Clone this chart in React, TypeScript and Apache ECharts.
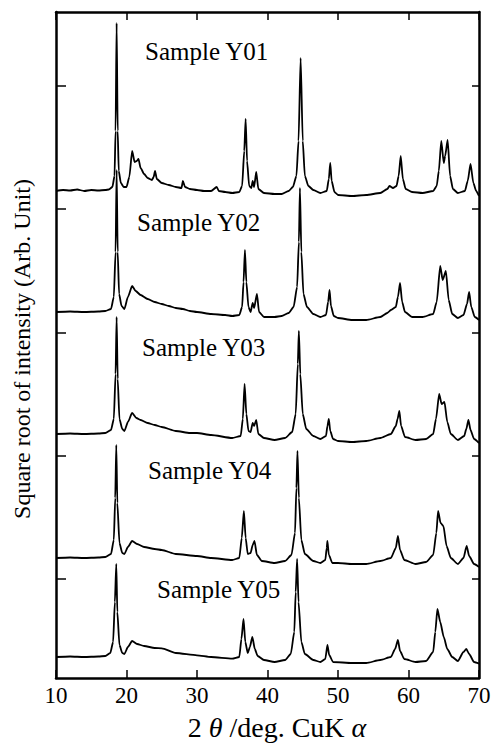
import React, { useEffect, useRef } from "react";
import * as echarts from "echarts";

const FONT = "Liberation Serif";

const sampleNames = ["Sample Y01", "Sample Y02", "Sample Y03", "Sample Y04", "Sample Y05"];
const offsets = [487, 366, 244, 120, 21];
const xTicks = [10, 20, 30, 40, 50, 60, 70];
const yTickValues = [99, 222, 345, 469, 592];

const y01: [number, number][] = [
  [10, 0], [11, 1], [12, 0.5], [13, 1.5], [14, 0], [15, 1], [16, 0.5], [17, 1], [17.5, 1.5], [18.0, 4], [18.3, 15], [18.45, 60], [18.6, 168], [18.75, 60], [18.9, 20], [19.2, 8], [19.6, 4],
  [20.0, 4], [20.4, 14], [20.8, 40], [21.15, 29], [21.45, 30], [21.7, 32], [22.0, 23], [22.5, 17], [23.0, 13], [23.6, 11], [23.85, 14], [24.05, 20], [24.3, 12], [25, 8], [26, 6], [27, 4],
  [27.8, 3], [28.0, 10], [28.3, 4], [29, 2], [30, 1], [31, 0], [32, 0], [32.8, 4], [33.1, 0], [34, -1], [35, -2], [36, -1], [36.4, 5], [36.7, 40], [36.9, 72], [37.1, 30], [37.4, 5],
  [37.7, 3], [37.9, 10], [38.1, 4], [38.4, 19], [38.7, 2], [39.5, -2], [41, -3], [42, -3], [43, 0], [43.6, 4], [44.1, 15], [44.4, 50], [44.7, 133], [45.0, 50], [45.3, 15], [45.8, 5],
  [46.5, 1], [47.5, -2], [48.4, 0], [48.7, 12], [48.9, 28], [49.1, 10], [49.5, -1], [50, -4], [52, -5], [54, -4], [56, -2], [57.0, 2], [57.3, 5], [57.8, 3], [58.3, 5], [58.6, 15],
  [58.9, 35], [59.2, 12], [59.6, 2], [60.5, -1], [62, -2], [63.5, 0], [64.0, 5], [64.3, 20], [64.65, 50], [65.0, 28], [65.2, 35], [65.55, 51], [65.9, 15], [66.3, 2], [67, -2],
  [68, 0], [68.4, 10], [68.8, 27], [69.2, 8], [69.6, 0], [70, -5],
];

const y02: [number, number][] = [
  [10, 0], [12, 0.5], [14, 0], [16, 0.5], [17, 1], [17.8, 3], [18.2, 15], [18.45, 60], [18.6, 142], [18.75, 60], [18.95, 18], [19.3, 6], [19.7, 3], [20.2, 15], [20.8, 26], [21.3, 21],
  [22, 17], [23, 13], [24, 10], [25, 8], [26, 6], [27, 4], [28, 3], [29, 1], [30, 0], [32, -2], [34, -3], [35, -4], [36, -3], [36.4, 5], [36.6, 30], [36.8, 62], [37.0, 30], [37.3, 5],
  [37.6, 0], [37.9, 9], [38.1, 4], [38.5, 18], [38.8, 0], [39.5, -5], [41, -5], [42, -4], [43, -1], [43.7, 5], [44.2, 25], [44.45, 70], [44.6, 124], [44.8, 60], [45.1, 18], [45.6, 5],
  [46.5, -2], [47.5, -5], [48.3, -3], [48.6, 10], [48.8, 22], [49.0, 6], [49.4, -4], [50, -6], [52, -8], [54, -8], [56, -5], [57, -1], [57.5, 2], [58.2, 5], [58.5, 15], [58.8, 29],
  [59.1, 10], [59.5, 0], [60.5, -5], [62, -5], [63.5, -2], [64.0, 10], [64.5, 46], [64.85, 32], [65.3, 41], [65.7, 12], [66.2, -2], [67, -6], [67.8, -3], [68.3, 8], [68.6, 20],
  [68.9, 5], [69.4, -5], [70, -8],
];

const y03: [number, number][] = [
  [10, 0], [12, 0.5], [14, 0], [16, 0.5], [17, 1], [17.8, 4], [18.2, 15], [18.45, 60], [18.6, 117], [18.75, 55], [19.0, 15], [19.4, 5], [19.7, 3], [20.2, 12], [20.8, 21], [21.4, 16],
  [22, 14], [23, 11], [24, 9], [25, 7], [27, 3], [29, 1], [30, 1], [32, -1], [35, -4], [36.2, -2], [36.5, 15], [36.75, 50], [37.0, 20], [37.3, 3], [37.6, 2], [37.9, 11], [38.1, 8],
  [38.4, 14], [38.7, 0], [39.5, -4], [41, -6], [42.5, -4], [43.5, 2], [44.0, 20], [44.3, 70], [44.45, 103], [44.65, 60], [45.0, 20], [45.5, 5], [46.5, -2], [47.5, -5], [48.3, -2],
  [48.5, 8], [48.7, 15], [48.9, 3], [49.3, -5], [50, -7], [52, -8], [54, -7], [56, -4], [57.5, 0], [58.2, 8], [58.45, 15], [58.7, 23], [58.95, 8], [59.5, -3], [61, -6], [62.5, -5],
  [63.5, 0], [63.9, 15], [64.35, 40], [64.7, 30], [65.1, 32], [65.5, 12], [66, 0], [67, -6], [67.9, -2], [68.2, 5], [68.5, 14], [68.8, 4], [69.3, -5], [70, -9],
];

const y04: [number, number][] = [
  [10, 0], [12, 0.5], [14, 0], [16, 0.5], [17, 1], [17.8, 4], [18.2, 18], [18.4, 60], [18.55, 113], [18.7, 55], [19.0, 15], [19.4, 5], [19.7, 4], [20.2, 11], [20.8, 17], [21.5, 14],
  [22.5, 11], [24, 9], [25, 8], [27, 4], [30, 2], [32, 0], [35, -2], [36.0, 0], [36.35, 20], [36.65, 47], [36.9, 20], [37.2, 4], [37.6, 5], [37.9, 13], [38.15, 17], [38.5, 3],
  [39.2, -3], [41, -5], [42.5, -3], [43.4, 3], [43.9, 25], [44.1, 70], [44.25, 107], [44.45, 60], [44.8, 18], [45.3, 4], [46.5, -3], [47.5, -5], [48.2, -2], [48.4, 10], [48.5, 17],
  [48.7, 3], [49.2, -5], [50, -5], [52, -6], [54, -6], [56, -3], [57.5, 0], [58.2, 10], [58.5, 22], [58.8, 8], [59.4, -2], [61, -6], [62.5, -4], [63.5, 3], [63.95, 25], [64.2, 47],
  [64.55, 35], [64.95, 32], [65.4, 12], [66, 0], [67, -6], [67.8, 0], [68.25, 12], [68.6, 2], [69.3, -6], [70, -9],
];

const y05: [number, number][] = [
  [10, 0], [12, 0.5], [14, 0], [16, 0.5], [17, 1], [17.7, 4], [18.1, 15], [18.35, 55], [18.55, 93], [18.7, 45], [19.0, 12], [19.4, 4], [19.7, 3], [20.2, 10], [20.8, 16], [21.5, 13],
  [22.5, 11], [24, 9], [25, 8.7], [27, 4], [30, 1.7], [32, 0], [35, -1.6], [36.0, 0], [36.3, 18], [36.6, 38], [36.85, 15], [37.2, 4], [37.5, 10], [37.85, 20], [38.2, 8], [38.6, 1],
  [39.5, -3], [41, -5], [42.5, -3], [43.3, 3], [43.8, 25], [44.0, 65], [44.2, 98], [44.4, 55], [44.8, 15], [45.3, 3], [46.5, -3], [47.5, -5], [48.2, -2], [48.5, 12], [48.75, 2],
  [49.3, -5], [52, -6], [54, -6], [56, -3], [57.5, 0], [58.1, 8], [58.5, 17], [58.8, 6], [59.4, -2], [61, -5], [62.5, -4], [63.5, 5], [63.8, 25], [64.1, 48], [64.5, 35], [65.0, 20],
  [65.5, 8], [66.2, 0], [67, -4], [67.8, 5], [68.2, 8], [68.6, 3], [69.3, -5], [70, -6.6],
];

const profiles = [y01, y02, y03, y04, y05];

// label anchor positions (pixels, left / vertical centre)
const labelPos: [number, number][] = [[145, 51], [137, 222], [142, 347], [148, 470], [157, 589]];

export default function App() {
  const ref = useRef<HTMLDivElement>(null);
  useEffect(() => {
    if (!ref.current) return;
    const chart = echarts.init(ref.current, undefined, { renderer: "svg" });
    const axisLine = { show: true, onZero: false, lineStyle: { color: "#000", width: 2.5 } };
    const series = profiles.map((p, i) => ({
      type: "line" as const,
      name: sampleNames[i],
      data: p.map(([x, v]) => [x, v + offsets[i]]),
      showSymbol: false,
      symbol: "none",
      smooth: 0.2,
      smoothMonotone: "x" as const,
      lineStyle: { color: "#000", width: 1.8 },
      xAxisIndex: 0,
      yAxisIndex: 0,
      z: 2,
    }));
    chart.setOption({
      animation: false,
      backgroundColor: "#fff",
      textStyle: { fontFamily: FONT, color: "#000" },
      grid: { left: 56, top: 12, right: 15, bottom: 70, containLabel: false },
      xAxis: [
        {
          type: "value", min: 10, max: 70, interval: 10, position: "bottom",
          axisLine, splitLine: { show: false },
          axisTick: { show: true, inside: true, length: 8, lineStyle: { color: "#000", width: 1.5 } },
          axisLabel: { show: true, color: "#000", fontFamily: FONT, fontSize: 23, margin: 6,
            formatter: (v: number) => (xTicks.includes(v) ? String(v) : "") },
        },
        {
          type: "value", min: 10, max: 70, interval: 10, position: "top",
          axisLine, splitLine: { show: false },
          axisTick: { show: true, inside: true, length: 8, lineStyle: { color: "#000", width: 1.5 } },
          axisLabel: { show: false },
        },
      ],
      yAxis: [
        {
          type: "value", min: 0, max: 666, position: "left",
          axisLine, splitLine: { show: false },
          axisTick: { show: true, inside: true, length: 10, customValues: yTickValues, lineStyle: { color: "#000", width: 1.5 } },
          axisLabel: { show: false },
        },
        {
          type: "value", min: 0, max: 666, position: "right",
          axisLine, splitLine: { show: false },
          axisTick: { show: true, inside: true, length: 7, customValues: yTickValues, lineStyle: { color: "#000", width: 1.5 } },
          axisLabel: { show: false },
        },
      ],
      series,
      graphic: [
        ...sampleNames.map((name, i) => ({
          type: "text", x: labelPos[i][0], y: labelPos[i][1], z: 10,
          style: { text: name, fill: "#000", fontFamily: FONT, fontSize: 25, align: "left", verticalAlign: "middle" },
        })),
        {
          type: "text", x: 22, y: 349, rotation: Math.PI / 2, z: 10,
          style: { text: "Square root of intensity (Arb. Unit)", fill: "#000", fontFamily: FONT, fontSize: 24, align: "center", verticalAlign: "middle" },
        },
        {
          type: "text", x: 277, y: 727, z: 10,
          style: {
            text: "{n|2 }{g|θ}{n| /deg. CuK }{g|α}", fill: "#000", fontFamily: FONT, fontSize: 28, align: "center", verticalAlign: "middle",
            rich: {
              n: { fontFamily: FONT, fontSize: 28, fill: "#000" },
              g: { fontFamily: FONT, fontSize: 28, fontStyle: "italic", fill: "#000" },
            },
          },
        },
      ],
    });
    return () => chart.dispose();
  }, []);
  return <div ref={ref} style={{ position: "fixed", left: 0, top: 0, width: 494, height: 748, background: "#fff" }} />;
}
